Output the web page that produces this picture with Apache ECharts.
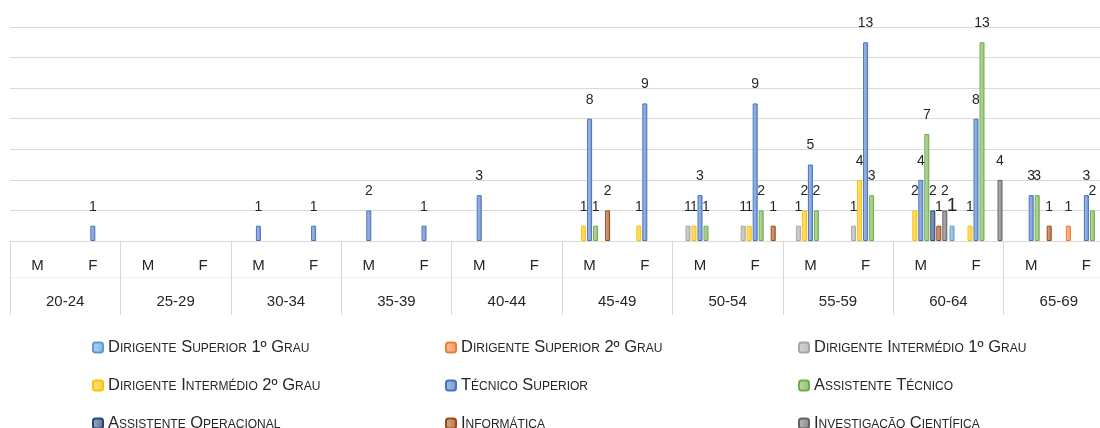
<!DOCTYPE html>
<html>
<head>
<meta charset="utf-8">
<script src="https://cdn.jsdelivr.net/npm/echarts@6/dist/echarts.min.js"></script>
<style>
  html, body { margin: 0; padding: 0; background: #fff; overflow: hidden; }
  #chart { width: 1100px; height: 428px; }
</style>
</head>
<body>
<div id="chart"></div>
<script>
// categories
var ageGroups = ['20-24', '25-29', '30-34', '35-39', '40-44', '45-49', '50-54', '55-59', '60-64', '65-69'];
var sexes = ['M', 'F'];

// one value per age group / sex (M, F, M, F, ...)
var dirSuperior1 = [null, null, null, null, null, null, null, null, null, null, null, null, null, null, null, null, null, 1, null, null];
var dirSuperior2 = [null, null, null, null, null, null, null, null, null, null, null, null, null, null, null, null, null, null, null, 1];
var dirIntermedio1 = [null, null, null, null, null, null, null, null, null, null, null, null, 1, 1, 1, 1, null, null, null, null];
var dirIntermedio2 = [null, null, null, null, null, null, null, null, null, null, 1, 1, 1, 1, 2, 4, 2, 1, null, null];
var tecnicoSuperior = [null, 1, null, null, 1, 1, 2, 1, 3, null, 8, 9, 3, 9, 5, 13, 4, 8, 3, 3];
var assistenteTecnico = [null, null, null, null, null, null, null, null, null, null, 1, null, 1, 2, 2, 3, 7, 13, 3, 2];
var assistenteOperacional = [null, null, null, null, null, null, null, null, null, null, null, null, null, null, null, null, 2, null, null, null];
var informatica = [null, null, null, null, null, null, null, null, null, null, 2, null, null, 1, null, null, 1, null, 1, null];
var investigacao = [null, null, null, null, null, null, null, null, null, null, null, null, null, null, null, null, 2, 4, null, null];

var seriesNames = ['Dirigente Superior 1º Grau', 'Dirigente Superior 2º Grau', 'Dirigente Intermédio 1º Grau',
  'Dirigente Intermédio 2º Grau', 'Técnico Superior', 'Assistente Técnico',
  'Assistente Operacional', 'Informática', 'Investigação Científica'];
var seriesData = [dirSuperior1, dirSuperior2, dirIntermedio1, dirIntermedio2, tecnicoSuperior,
  assistenteTecnico, assistenteOperacional, informatica, investigacao];
var colors = ['#5B9BD5', '#ED7D31', '#A5A5A5', '#FFC000', '#4472C4', '#70AD47', '#264478', '#9E480E', '#636363'];

var sexLabels = [];
ageGroups.forEach(function () { sexes.forEach(function (s) { sexLabels.push(s); }); });

function tint(hex, t) {
  var n = parseInt(hex.slice(1), 16);
  var r = (n >> 16) & 255, g = (n >> 8) & 255, b = n & 255;
  r = Math.round(r + (255 - r) * t); g = Math.round(g + (255 - g) * t); b = Math.round(b + (255 - b) * t);
  return 'rgb(' + r + ',' + g + ',' + b + ')';
}

var FONT = 'Liberation Sans';
// legend text in Excel is small caps
var capsStyle = { fontStyle: 'normal small-caps', fontSize: 16.5, color: '#262626', fontFamily: FONT };

var series = seriesNames.map(function (name, i) {
  return {
    name: name,
    type: 'bar',
    data: seriesData[i],
    barWidth: 5,
    barGap: '20%',
    itemStyle: {
      color: new echarts.graphic.LinearGradient(0, 0, 1, 0, [
        { offset: 0, color: tint(colors[i], 0.55) },
        { offset: 1, color: tint(colors[i], 0.25) }
      ]),
      borderColor: colors[i],
      borderWidth: 1
    },
    label: {
      show: true,
      position: 'top',
      distance: i === 0 ? 10 : 12,
      color: '#262626',
      fontFamily: FONT,
      fontSize: i === 0 ? 19 : 14
    }
  };
});

// three columns of three rows, last row runs to the bottom edge
var legendBase = {
  orient: 'vertical', top: 339, height: 130, padding: 0, itemGap: 21,
  itemWidth: 10, itemHeight: 10, textStyle: capsStyle
};

var chart = echarts.init(document.getElementById('chart'));
chart.setOption({
  animation: false,
  color: colors,
  textStyle: { fontFamily: FONT },
  // plot runs past the right edge like the cropped original
  grid: { left: 10, width: 1104, top: 27, bottom: 187, outerBoundsMode: 'none' },
  legend: [
    Object.assign({ data: [seriesNames[0], seriesNames[3], seriesNames[6]], left: 92 }, legendBase),
    Object.assign({ data: [seriesNames[1], seriesNames[4], seriesNames[7]], left: 445 }, legendBase),
    Object.assign({ data: [seriesNames[2], seriesNames[5], seriesNames[8]], left: 798 }, legendBase)
  ],
  xAxis: [
    {
      type: 'category',
      data: sexLabels,
      axisLine: { lineStyle: { color: '#d9d9d9' } },
      axisTick: { show: false },
      axisLabel: { color: '#262626', fontSize: 15, margin: 17, interval: 0, fontFamily: FONT }
    },
    {
      type: 'category',
      data: ageGroups,
      position: 'bottom',
      axisLine: { show: false },
      axisTick: { show: true, length: 74, lineStyle: { color: '#d9d9d9' } },
      axisLabel: { color: '#262626', fontSize: 15, margin: 53, interval: 0, fontFamily: FONT }
    },
    {
      type: 'category',
      data: ageGroups,
      position: 'bottom',
      offset: 36,
      axisLine: { show: true, lineStyle: { color: '#f0f0f0' } },
      axisTick: { show: false },
      axisLabel: { show: false }
    }
  ],
  yAxis: {
    type: 'value',
    min: 0,
    max: 14,
    interval: 2,
    axisLabel: { show: false },
    axisLine: { show: false },
    axisTick: { show: false },
    splitLine: { lineStyle: { color: '#d9d9d9' } }
  },
  series: series
});
</script>
</body>
</html>
